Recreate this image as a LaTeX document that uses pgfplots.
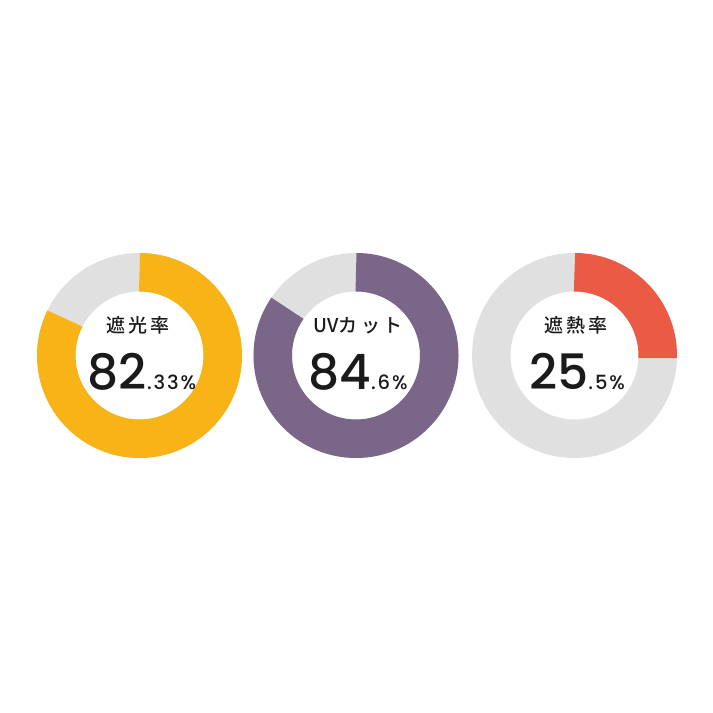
\documentclass[border=0pt]{standalone}
\usepackage{pgfplots}
\pgfplotsset{compat=1.18}
\usepackage{pgfplotstable}
\usepackage{fontspec}
\setmainfont{Poppins}
\newfontfamily\numfont{Poppins Medium}
\newfontfamily\cjk{Noto Sans CJK JP Medium}
\definecolor{cyel}{HTML}{F8B416}
\definecolor{cpur}{HTML}{7A6689}
\definecolor{cred}{HTML}{EA5A45}
\definecolor{cgry}{HTML}{E0E0E0}
\definecolor{ctxt}{HTML}{1A1A1A}
\pgfplotstableread{
cx    cy     value
139.5 357.5  82.33
356.0 357.5  84.6
574.5 357.5  25.5
}\donuts
\newcommand\donut[2]{% row, colour
  \pgfplotstablegetelem{#1}{cx}\of\donuts \let\cx\pgfplotsretval
  \pgfplotstablegetelem{#1}{cy}\of\donuts \let\cy\pgfplotsretval
  \pgfplotstablegetelem{#1}{value}\of\donuts \let\val\pgfplotsretval
  \pgfmathsetmacro\endang{90-3.6*\val}
  \edef\temp{%
  \noexpand\draw[cgry, line width=15.4pt] (axis cs:\cx,\cy) circle[radius=33.3pt];
  \noexpand\draw[#2, line width=15.4pt] (axis cs:\cx,\cy) ++(90:33.3pt) arc[start angle=90, end angle=\endang, radius=33.3pt];
  }\temp
}
\begin{document}
\begin{tikzpicture}
\begin{axis}[x=0.4pt, y=0.4pt, xmin=0, xmax=713, ymin=0, ymax=713,
  axis lines=none, ticks=none, clip=false]
\path (rel axis cs:0,0) (rel axis cs:1,1);
\donut{0}{cyel}
\donut{1}{cpur}
\donut{2}{cred}
\node[text=ctxt, anchor=base] at (axis cs:138,380) {\cjk\fontsize{7.6}{8}\selectfont 遮\,光\,率};
\node[text=ctxt, anchor=base] at (axis cs:358,380) {\cjk\fontsize{7.6}{8}\selectfont UVカ\,ッ\,ト};
\node[text=ctxt, anchor=base] at (axis cs:576,380) {\cjk\fontsize{7.6}{8}\selectfont 遮\,熱\,率};
\node[text=ctxt, anchor=base] at (axis cs:142,323) {\numfont\fontsize{19.5}{20}\selectfont 82\fontsize{7.8}{8}\selectfont\addfontfeature{LetterSpace=10}.33\%};
\node[text=ctxt, anchor=base] at (axis cs:358,323) {\numfont\fontsize{19.5}{20}\selectfont 84\fontsize{7.8}{8}\selectfont\addfontfeature{LetterSpace=10}.6\%};
\node[text=ctxt, anchor=base] at (axis cs:577,323) {\numfont\fontsize{19.5}{20}\selectfont 25\fontsize{7.8}{8}\selectfont\addfontfeature{LetterSpace=10}.5\%};
\end{axis}
\end{tikzpicture}
\end{document}
